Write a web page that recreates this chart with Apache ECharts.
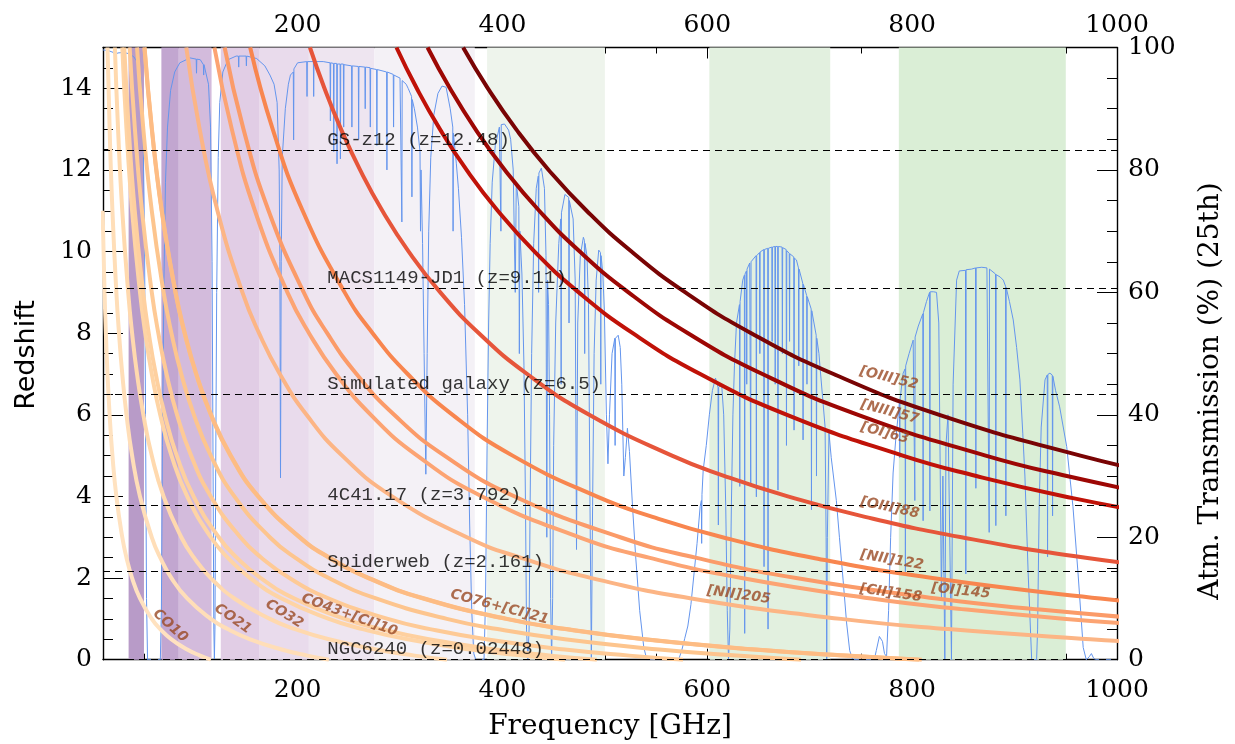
<!DOCTYPE html>
<html><head><meta charset="utf-8">
<script src="https://cdn.jsdelivr.net/npm/echarts@6/dist/echarts.min.js"></script>
<style>html,body{margin:0;padding:0;background:#fff}#c{width:1235px;height:744px}</style>
</head><body><div id="c"></div><script>
// ---------------- DATA ----------------
const bandLow  = [35, 67, 84, 125, 163, 211, 275, 385, 602, 787];
const bandHigh = [50, 84, 116, 163, 211, 275, 373, 500, 720, 950];

const xTickLabels = [200, 400, 600, 800, 1000];
const zTickLabels = [0, 2, 4, 6, 8, 10, 12, 14];
const tTickLabels = [0, 20, 40, 60, 80, 100];

const sourceNames = ['GS-z12 (z=12.48)', 'MACS1149-JD1 (z=9.11)', 'Simulated galaxy (z=6.5)', '4C41.17 (z=3.792)', 'Spiderweb (z=2.161)', 'NGC6240 (z=0.02448)'];
const sourceZ = [12.48, 9.11, 6.5, 3.792, 2.161, 0.02448];

// redshift tracks [frequency GHz, z]
const CO10 = [[115.27,0],[104.79,0.1],[92.22,0.25],[76.85,0.5],[65.87,0.75],[57.64,1],[46.11,1.5],[38.42,2],[32.93,2.5],[28.82,3],[23.05,4],[19.21,5],[16.47,6],[14.41,7],[12.81,8],[11.53,9],[9.61,11]];
const CO21 = [[230.54,0],[209.58,0.1],[184.43,0.25],[153.69,0.5],[131.74,0.75],[115.27,1],[92.22,1.5],[76.85,2],[65.87,2.5],[57.63,3],[46.11,4],[38.42,5],[32.93,6],[28.82,7],[25.62,8],[23.05,9],[19.21,11],[16.47,13],[14.41,15]];
const CO32 = [[345.80,0],[314.36,0.1],[276.64,0.25],[230.53,0.5],[197.60,0.75],[172.90,1],[138.32,1.5],[115.27,2],[98.80,2.5],[86.45,3],[69.16,4],[57.63,5],[49.40,6],[43.22,7],[38.42,8],[34.58,9],[28.82,11],[24.70,13],[21.61,15]];
const CO43 = [[461.04,0],[419.13,0.1],[368.83,0.25],[307.36,0.5],[263.45,0.75],[230.52,1],[184.42,1.5],[153.68,2],[131.73,2.5],[115.26,3],[92.21,4],[76.84,5],[65.86,6],[57.63,7],[51.23,8],[46.10,9],[38.42,11],[32.93,13],[28.82,15]];
const CI10 = [[492.16,0],[447.42,0.1],[393.73,0.25],[328.11,0.5],[281.23,0.75],[246.08,1],[196.86,1.5],[164.05,2],[140.62,2.5],[123.04,3],[98.43,4],[82.03,5],[70.31,6],[61.52,7],[54.68,8],[49.22,9],[41.01,11],[35.15,13],[30.76,15]];
const CO54 = [[576.27,0],[523.88,0.1],[461.01,0.25],[384.18,0.5],[329.30,0.75],[288.13,1],[230.51,1.5],[192.09,2],[164.65,2.5],[144.07,3],[115.25,4],[96.04,5],[82.32,6],[72.03,7],[64.03,8],[57.63,9],[48.02,11],[41.16,13],[36.02,15]];
const CO65 = [[691.47,0],[628.61,0.1],[553.18,0.25],[460.98,0.5],[395.13,0.75],[345.74,1],[276.59,1.5],[230.49,2],[197.56,2.5],[172.87,3],[138.29,4],[115.25,5],[98.78,6],[86.43,7],[76.83,8],[69.15,9],[57.62,11],[49.39,13],[43.22,15]];
const CO76 = [[806.65,0],[733.32,0.1],[645.32,0.25],[537.77,0.5],[460.94,0.75],[403.33,1],[322.66,1.5],[268.88,2],[230.47,2.5],[201.66,3],[161.33,4],[134.44,5],[115.24,6],[100.83,7],[89.63,8],[80.67,9],[67.22,11],[57.62,13],[50.42,15]];
const CI21 = [[809.34,0],[735.77,0.1],[647.47,0.25],[539.56,0.5],[462.48,0.75],[404.67,1],[323.74,1.5],[269.78,2],[231.24,2.5],[202.34,3],[161.87,4],[134.89,5],[115.62,6],[101.17,7],[89.93,8],[80.93,9],[67.45,11],[57.81,13],[50.58,15]];
const NII205 = [[1168.90,0.25],[1043.67,0.4],[974.09,0.5],[834.93,0.75],[730.57,1],[584.45,1.5],[487.04,2],[417.47,2.5],[365.28,3],[292.23,4],[243.52,5],[208.73,6],[182.64,7],[162.35,8],[146.11,9],[121.76,11],[104.37,13],[91.32,15]];
const CII158 = [[1086.02,0.75],[950.27,1],[844.68,1.25],[760.21,1.5],[633.51,2],[543.01,2.5],[475.13,3],[380.11,4],[316.76,5],[271.51,6],[237.57,7],[211.17,8],[190.05,9],[158.38,11],[135.75,13],[118.78,15]];
const OI145 = [[1177.18,0.75],[1030.03,1],[915.59,1.25],[824.03,1.5],[686.69,2],[588.59,2.5],[515.02,3],[412.01,4],[343.34,5],[294.30,6],[257.51,7],[228.90,8],[206.01,9],[171.67,11],[147.15,13],[128.75,15]];
const NII122 = [[1229.69,1],[1093.06,1.25],[983.75,1.5],[819.79,2],[702.68,2.5],[614.85,3],[546.53,3.5],[491.88,4],[409.90,5],[351.34,6],[307.42,7],[273.26,8],[245.94,9],[204.95,11],[175.67,13],[153.71,15]];
const OIII88 = [[1131.00,2],[969.43,2.5],[848.25,3],[754.00,3.5],[678.60,4],[616.91,4.5],[565.50,5],[484.72,6],[424.13,7],[377.00,8],[339.30,9],[308.46,10],[282.75,11],[261.00,12],[242.36,13],[226.20,14],[212.06,15]];
const OI63 = [[1186.19,3],[1054.39,3.5],[948.96,4],[862.69,4.5],[790.80,5],[677.83,6],[593.10,7],[527.20,8],[474.48,9],[431.34,10],[395.40,11],[364.98,12],[338.91,13],[316.32,14],[296.55,15]];
const NIII57 = [[1046.09,4],[950.99,4.5],[871.74,5],[747.20,6],[653.80,7],[581.16,8],[523.04,9],[475.49,10],[435.87,11],[402.34,12],[373.60,13],[348.70,14],[326.90,15]];
const OIII52 = [[1051.98,4.5],[964.31,5],[826.55,6],[723.23,7],[642.88,8],[578.59,9],[525.99,10],[482.16,11],[445.07,12],[413.28,13],[385.73,14],[361.62,15]];

const trackNames = ['CO10','CO21','CO32','CO43','[CI]10','CO54','CO65','CO76','[CI]21','[NII]205','[CII]158','[OI]145','[NII]122','[OIII]88','[OI]63','[NIII]57','[OIII]52'];
const tracks = [CO10, CO21, CO32, CO43, CI10, CO54, CO65, CO76, CI21, NII205, CII158, OI145, NII122, OIII88, OI63, NIII57, OIII52];

const trackLabelText = ['CO10','CO21','CO32','CO43+[CI]10','CO76+[CI]21','[NII]205','[CII]158','[OI]145','[NII]122','[OIII]88','[OI]63','[NIII]57','[OIII]52'];
const trackLabelFreq = [75.7, 136.8, 187.1, 250.6, 397.2, 630.7, 779.2, 847.6, 780.2, 778.2, 773.3, 778.2, 777.2];
const trackLabelZ    = [0.83, 1.0, 1.12, 1.09, 1.29, 1.585, 1.63, 1.68, 2.44, 3.72, 5.55, 6.07, 6.90];

// atmospheric transmission (%) [frequency GHz, T]
const atmosphere = [[10,99.6],[15,99.5],[20,99.2],[22.2,98.6],[24,99.1],[30,99.2],[35,99],[40,98.5],[44,97.5],[47,95],[49,88],[50.5,70],[51.5,40],[52.5,10],[53.5,0],[66,0],[67,8],[68,35],[69.5,62],[71,78],[73,87],[76,93],[80,96],[85,97.5],[95,98.3],[101,98.1],[101.3,95.8],[101.6,98.1],[105,98],[108,97.2],[108.3,95.5],[108.6,97.2],[110,97],[113,94],[115,87],[116.5,65],[117.5,30],[118.2,5],[118.75,0],[119.3,5],[120,30],[121,60],[122.5,82],[124,91],[127,96],[132,98],[140,98.6],[142.2,98.6],[142.5,96.8],[142.8,98.6],[149.7,98.6],[150,97],[150.3,98.6],[160,98.2],[168,97],[173,95.5],[177,94],[180,91],[182,80],[182.7,65],[183.3,29.7],[184,65],[185,82],[188,90],[191,94],[193,95.5],
[195.8,96],[196.1,84.9],[196.4,96.5],[200,97.5],[208.9,97.7],[209.2,92],[209.5,97.7],[215.4,97.7],[215.7,92],[216,97.7],[225,97.7],[231.7,97.5],[232,88],[232.3,97.5],[235,97.4],[235.3,83],[235.6,97.4],[238.2,97.4],[238.5,81],[238.8,97.3],[241.5,97.3],[241.8,81.8],[242.1,97.3],[244.7,97.3],[245,87],[245.3,97.2],[252.7,97],[253,87],[253.3,97],[259.3,96.9],[259.6,85],[259.9,96.9],[265.7,96.8],[266,90],[266.3,96.8],[270.7,96.7],[271,87],[271.3,96.6],[277.1,96.4],[277.4,84],[277.7,96.4],[286.9,96],[287.2,80],[287.5,96],[293.4,95.6],[293.7,87],[294,95.5],[300,95],[301.5,94.8],[301.8,71.5],[302.1,94.6],[306,94],[308,93.3],[311.3,92],[311.6,75.6],[311.9,91.5],[314,90],[317,87],[319.5,83],[320,70],[320.5,80],[322,68],[323.5,50],[325.2,30.3],[326.5,50],[328,70],[330,82],[333,89],[337,92.5],[341,93.7],[345,93.5],[349,90],[351.5,87],[351.8,70],[352.1,86],[355,81],[357,77],[360,69],[363,58],[366,40],[368,22],[370,8],[372,1],[374,0],[382,0],[383.5,10],[385,35],[386.5,55],[388,68],[390,78],[393,84],[397,87],[398.2,87.3],[398.5,70],[398.8,87.4],[402,87.5],[406,86.5],[408,85],[410.5,80],[412.5,60],[413.5,78],[416,74],[416.5,50],[417,70],[419,63],[421,48],[422.5,25],[423.5,5],[424.8,0],[426,5],[427,25],[428.5,50],[430.5,68],[433,77],[435,79],[435.3,60],[435.6,79.5],[438,80.3],[441,77],[442.5,66],[443.3,20],[444,62],[445,58],[446,40],[447,10],[448,0],[449,10],[450,35],[452,55],[455,68],[457,72],[457.3,45],[457.6,73],[461,76],[464.7,75.5],[465,55],[465.3,75],[469,72],[471,62],[472.3,18],[473.5,55],[476,66],[479,69],[480,68.5],[480.3,50],[480.6,68],[482.5,66],[484,58],[485.5,25],[486.8,0],[488,25],[489.5,50],[491.5,62],[494,66.9],[495.7,66.5],[496,45],[496.3,66],[498,63],[499.5,57],[501.5,40],[503,32],[504.5,40],[507,50],[509.7,52.5],[510,35],[510.3,52.5],[513,53],[515,51],[516.5,45],[518.5,30],[520,33],[522,37.8],[524,34],[527,25],[530,17],[534,8],[538,2],[541,0],[572,0],[575,1.5],[578,3.5],[581,5.5],[584,9],[587,14],[590,19],[593,25],[594.2,26],[594.5,19],[594.8,27],[596,31],[599,35],[602,40],[605,44],[608,46],[610.5,44.5],[610.8,22],[611.1,44.5],[614,45],[616,40],[618,25],[619.5,8],[620.7,0],
[622,5],[623.5,25],[625,40],[626.5,48],[628.5,55],[631.4,58],[631.7,28.3],[632,58.5],[634.6,62],[636.2,62.8],[636.5,4.3],[636.8,63],[638.2,63.5],[638.5,45],[638.8,63.8],[641.4,64.8],[642.1,65],[642.4,28.8],[642.7,65],[647.6,66],[647.9,26.6],[648.2,66],[651,66.5],[651.3,50],[651.6,66.6],[655.1,67],[655.4,15.2],[655.7,67],[659,67.2],[659.3,5],[659.6,67.2],[663,67.4],[663.3,52],[663.6,67.4],[666,67.5],[666.3,45],[666.6,67.5],[668.7,67.5],[669,27.7],[669.3,67.5],[673,67.4],[673.3,50],[673.6,67.3],[677,67],[677.3,35],[677.6,66.8],[680,66.4],[680.3,52],[680.6,66.3],[684.4,65.8],[684.7,37.5],[685,65.6],[687,65.3],[689,64],[689.3,48],[689.6,63.8],[693.2,61.5],[693.5,35.9],[693.8,61.3],[697,59.5],[697.3,45],[697.6,59.3],[701.4,57.3],[701.7,24.5],[702,57],[703,57],[706.3,53],[706.6,30],[706.9,52.5],[709,50],[710,47.9],[713,42],[715,38],[716,20],[716.6,0],[717.2,20],[718.8,37],[721,33],[726,26],[729,20],[732.6,13],[736,6],[739,1.5],[742,0],[763,0],[765,1.5],[768,3.8],[771,3],[773,1],[775,0.5],[777,8],[779,20],[781.4,30.5],[784,36],[787.6,42],[787.9,33],[788.2,42.5],[791.2,46.8],[793.1,47.5],[793.4,14],[793.7,48],[797,50],[801,52.2],[802.3,52.5],[802.6,26],[802.9,52.7],[806,54.5],[810.4,56.5],[810.7,22.7],[811,56.7],[814,58.5],[817,60],[817.3,24.3],[817.6,60.1],[821,60.1],[823.8,60],[826,55],[828.6,10],[830,30],[831.9,0],[833,35],[835,40],[838.4,0],[840,45],[843.4,62],[846,63.5],[852.1,63.6],[852.4,14],[852.7,63.7],[858,63.8],[861.9,64],[862.2,28],[862.5,64],[868,64.1],[873,64],[874.9,63.9],[875.2,20.8],[875.5,63.8],[881.4,63],[881.7,21.9],[882,62.9],[886,62.5],[889,62],[891.2,61],[891.5,23.5],[891.8,60.8],[895,58.5],[898.7,55.5],[902,51],[905.2,45.7],[908,37],[910.1,30],[913.3,14],[916.7,0],[921.5,0],[922.5,5],[924,25],[926,38],[929.7,45.7],[931.9,46.5],[932.2,16.8],[932.5,46.6],[934.5,46.8],[936.8,46.5],[937.1,23.5],[937.4,46.3],[940,44],[944,41.3],[950.9,34.8],[957,25],[962,14],[967,2],[970,0],[973,0.5],[975,1],[977,0.3],[979,0],[1000,0]];

// ---------------- STYLE ----------------
const bandColors = ['#b89bc8','#c2a6d0','#d3bbdc','#e1cde5','#e9dbec','#eee5f0','#f4f1f6','#eef4ec','#e2f0df','#daeed6'];
const trackColors = ['#ffe2c0','#ffdeb8','#ffd9ae','#fed4a5','#fed09f','#feca96','#fdc58e','#fdc089','#fdbc84','#fcb585','#fca473','#fb9b69','#f8864f','#e6553a','#c01208','#9d0704','#790404'];
const labelRot = [-42, -35, -32, -20, -15, -8, -8, -6, -10, -12, -15, -15, -14];
const serif = "'DejaVu Serif', serif";

function range(a, b, s) { const r = []; for (let v = a; v <= b + 1e-9; v += s) r.push(+v.toFixed(4)); return r; }

const axisLineStyle = { color: '#000', width: 1.4 };
function xAx(pos, major) {
  return {
    type: 'value', min: 10, max: 1000, position: pos,
    axisLine: { show: major, onZero: false, lineStyle: axisLineStyle },
    axisTick: { show: true, inside: true, length: major ? 11 : 6, lineStyle: { color: '#000', width: 1 },
      customValues: major ? xTickLabels : range(50, 1000, 50) },
    axisLabel: { show: major, customValues: xTickLabels, formatter: v => String(v), fontFamily: serif, fontSize: 25, color: '#000', margin: pos === 'bottom' ? 18 : 10 },
    splitLine: { show: false }
  };
}
function yAx(pos, major, max, labels, minorStep) {
  return {
    type: 'value', min: 0, max: max, position: pos,
    axisLine: { show: major, onZero: false, lineStyle: axisLineStyle },
    axisTick: { show: true, inside: true, length: major ? 20 : 10, lineStyle: { color: '#000', width: 1 },
      customValues: major ? labels : range(minorStep, max, minorStep) },
    axisLabel: { show: major, customValues: labels, formatter: v => String(v), fontFamily: serif, fontSize: 25, color: '#000', margin: 11 },
    splitLine: { show: false }
  };
}

const series = [];
// ALMA bands
series.push({
  type: 'line', data: [], silent: true, z: 1,
  markArea: { silent: true, data: bandLow.map((b, i) => [{ xAxis: b, itemStyle: { color: bandColors[i], opacity: 1 } }, { xAxis: bandHigh[i] }]) }
});
// atmosphere
series.push({
  type: 'line', name: 'atm', xAxisIndex: 0, yAxisIndex: 2, data: atmosphere, symbol: 'none',
  lineStyle: { color: '#6495ED', width: 1 }, z: 2, animation: false
});
// redshift tracks
tracks.forEach((t, i) => series.push({
  type: 'line', name: trackNames[i], xAxisIndex: 0, yAxisIndex: 0, data: t, symbol: 'none',
  smooth: 0.5, lineStyle: { color: trackColors[i], width: 4 }, z: 3, animation: false
}));
// dashed source lines
series.push({
  type: 'line', data: [], z: 4, xAxisIndex: 0, yAxisIndex: 0,
  markLine: { silent: true, symbol: 'none', label: { show: false },
    lineStyle: { color: '#000', type: [7, 5], width: 1 },
    data: sourceZ.map(z => ({ yAxis: z })) }
});
// source labels
series.push({
  type: 'scatter', xAxisIndex: 0, yAxisIndex: 0, symbolSize: 0.1, z: 5, silent: true,
  itemStyle: { color: 'rgba(0,0,0,0)' },
  data: sourceZ.map((z, i) => ({ value: [229, z], name: sourceNames[i] })),
  label: { show: true, position: 'right', distance: 0, offset: [0, -10], formatter: p => p.name,
    fontFamily: "'Liberation Mono', monospace", fontSize: 19, color: '#000' }
});
// track labels
series.push({
  type: 'scatter', xAxisIndex: 0, yAxisIndex: 0, symbolSize: 0.1, z: 6, silent: true,
  itemStyle: { color: 'rgba(0,0,0,0)' },
  data: trackLabelText.map((s, i) => ({ value: [trackLabelFreq[i], trackLabelZ[i]], name: s,
    label: { rotate: labelRot[i] } })),
  label: { show: true, position: 'inside', formatter: p => p.name,
    fontFamily: "'DejaVu Sans', sans-serif", fontStyle: 'italic', fontWeight: 'bold', fontSize: 14, color: '#9a4a24' }
});

const option = {
  animation: false,
  backgroundColor: '#fff',
  grid: { left: 103, top: 47.5, right: 118, bottom: 84.3, containLabel: false },
  xAxis: [xAx('bottom', true), xAx('bottom', false), xAx('top', true), xAx('top', false)],
  yAxis: [yAx('left', true, 15, zTickLabels, 0.5), yAx('left', false, 15, zTickLabels, 0.5),
          yAx('right', true, 100, tTickLabels, 5), yAx('right', false, 100, tTickLabels, 5)],
  series: series,
  graphic: [
    { type: 'text', x: 27, y: 355, rotation: Math.PI / 2,
      style: { text: 'Redshift', fontFamily: "'DejaVu Sans', sans-serif", fontSize: 27, fill: '#000', align: 'center', verticalAlign: 'middle' } },
    { type: 'text', x: 610, y: 727,
      style: { text: 'Frequency [GHz]', fontFamily: serif, fontSize: 28, fill: '#000', align: 'center', verticalAlign: 'middle' } },
    { type: 'text', x: 1211, y: 391, rotation: Math.PI / 2,
      style: { text: 'Atm. Transmission (%) (25th)', fontFamily: serif, fontSize: 28, fill: '#000', align: 'center', verticalAlign: 'middle' } }
  ]
};
const chart = echarts.init(document.getElementById('c'), null, { renderer: 'canvas' });
chart.setOption(option);
</script></body></html>
